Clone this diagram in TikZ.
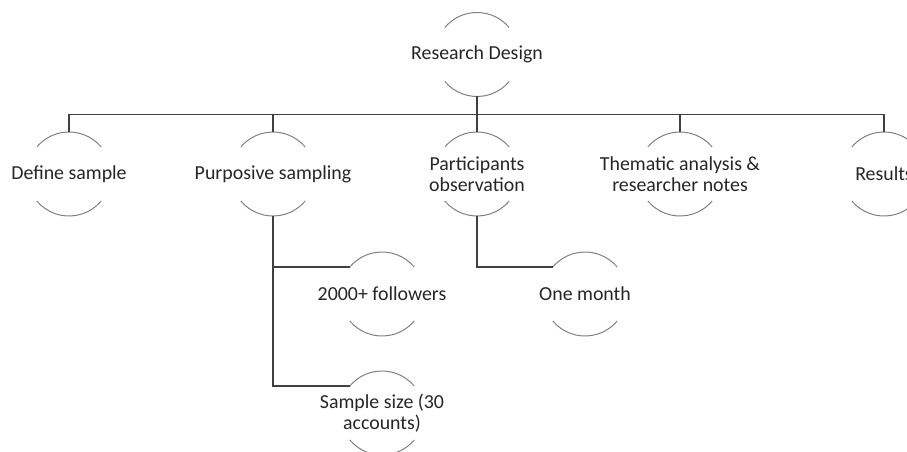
\documentclass[tikz,border=0pt]{standalone}
\usepackage{fontspec}
\setmainfont{Carlito}
\definecolor{linegray}{HTML}{404040}
\definecolor{arcgray}{HTML}{808080}
\definecolor{textgray}{HTML}{262626}
\begin{document}
\begin{tikzpicture}[x=0.75pt, y=-0.75pt]
% define node styles
\tikzstyle{every node}  = [circle, minimum size=63pt, inner sep=0pt, outer sep=0pt]
\tikzstyle{every label} = [rectangle, minimum size=0pt, inner sep=0pt, align=center,
                           text=textgray, font=\fontsize{14.9}{15.75}\selectfont]
\tikzstyle{arc}         = [arcgray, line width=0.75pt]
\tikzstyle{conn}        = [linegray, line width=1.1pt]

\useasboundingbox (0,0) rectangle (907,452);

% shapes with their texts
\foreach \v/\x/\y/\t in {rd/477/54.5/Research Design,
    ds/69/174/Define sample, ps/273/174/Purposive sampling,
    po/477/174/Participants\\observation,
    ta/680/174/Thematic analysis \&\\researcher notes, re/884/174/Results,
    fo/382/294/2000+ followers, om/585/294/One month,
    ss/382/413/Sample size (30\\accounts)}
    \node [label=center:{\t}] (\v) at (\x,\y) {};

% arcs above and below each text
\foreach \n in {rd, ds, ps, po, ta, re, fo, om, ss} {
    \draw [arc] (\n.40) arc (40:140:31.5pt);
    \draw [arc] (\n.220) arc (220:320:31.5pt);
}

% connectors
\draw [conn] (rd.south) -- ++(0,18) coordinate (bus);
\foreach \c in {ds, ps, po, ta, re}
    \draw [conn] (bus) -| (\c.north);
\foreach \from/\to in {ps/fo, ps/ss, po/om}
    \draw [conn] (\from.south) |- (\to.140);

\end{tikzpicture}
\end{document}
